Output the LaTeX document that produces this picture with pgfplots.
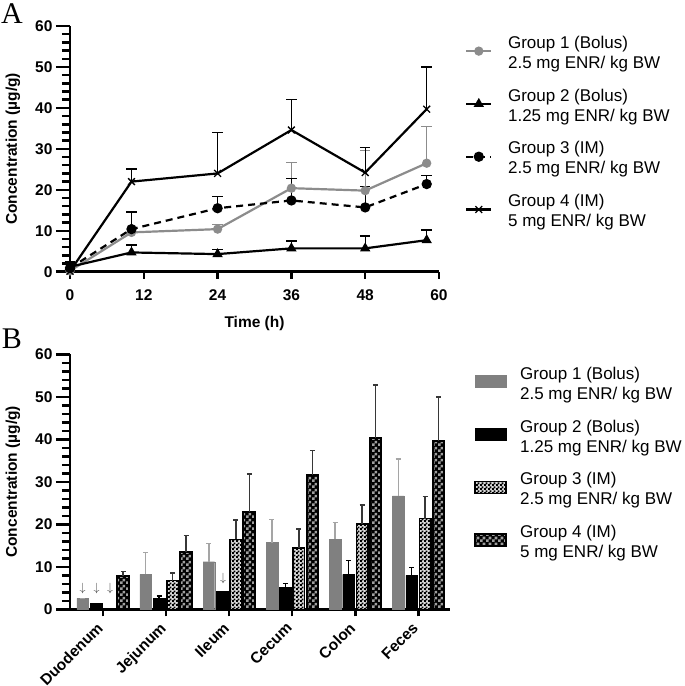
\documentclass[border=0pt]{standalone}
\usepackage{fontspec}
\setmainfont{Liberation Sans}
\newfontfamily\panelfont{Liberation Serif}
\usepackage{pgfplots}
\pgfplotsset{compat=1.18}
\usetikzlibrary{patterns}

\definecolor{gOne}{RGB}{140,140,140}
\definecolor{gBar}{RGB}{128,128,128}
\definecolor{gErr}{RGB}{165,165,165}
\definecolor{dkErr}{RGB}{55,55,55}

\pgfdeclarepatternformonly{finecheck}{\pgfqpoint{0bp}{0bp}}{\pgfqpoint{4bp}{4bp}}{\pgfqpoint{4bp}{4bp}}{%
 \pgfpathrectangle{\pgfqpoint{0bp}{0bp}}{\pgfqpoint{2.2bp}{2.2bp}}%
 \pgfpathrectangle{\pgfqpoint{2bp}{2bp}}{\pgfqpoint{2.2bp}{2.2bp}}%
 \pgfusepath{fill}}
\pgfdeclarepatternformonly{bigcheck}{\pgfqpoint{0bp}{0bp}}{\pgfqpoint{6bp}{6bp}}{\pgfqpoint{6bp}{6bp}}{%
 \pgfpathrectangle{\pgfqpoint{0bp}{0bp}}{\pgfqpoint{3bp}{3bp}}%
 \pgfpathrectangle{\pgfqpoint{3bp}{3bp}}{\pgfqpoint{3bp}{3bp}}%
 \pgfusepath{fill}}

\newcommand{\lfont}{\fontsize{17bp}{20bp}\selectfont}
\newcommand{\tfont}{\bfseries\fontsize{15.5bp}{18bp}\selectfont}
\newcommand{\entry}[2]{\begin{tabular}{@{}l@{}}#1\\#2\end{tabular}}

\pgfplotsset{
  prism/.style={
    scale only axis,
    axis x line*=bottom, axis y line*=left,
    axis line style={line width=2.5bp, black},
    tick align=outside,
    tick style={line width=2.5bp, black},
    major tick length=14bp, minor tick length=8bp,
    xtick style={/pgfplots/major tick length=7bp},
    minor y tick num=4,
    ticklabel style={font=\tfont},
    /pgf/number format/assume math mode=true,
    label style={font=\tfont},
    ymin=0, ymax=60, ytick={0,10,...,60},
    clip=false,
    legend cell align=left,
    legend style={draw=none, fill=none, inner sep=0pt, font=\lfont,
      nodes={inner sep=0pt}, row sep=27bp},
  }
}

\begin{document}
\begin{tikzpicture}
\path[use as bounding box] (0,0) rectangle (685bp,-686bp);

% ---------------- Panel A ----------------
\begin{axis}[prism,
  at={(70bp,-271.7bp)}, anchor=south west,
  width=369bp, height=245.7bp,
  xmin=0, xmax=60, xtick={0,12,...,60},
  xlabel={Time (h)},
  ylabel={Concentration (µg/g)},
  xlabel style={at={(axis description cs:0.5,-0.21)}, anchor=center},
  ylabel style={at={(axis description cs:-0.1545,0.5)}, anchor=center},
  legend style={at={(axis description cs:1.0705,0.9674)}, anchor=north west, column sep=15.7bp},
  legend image code/.code={\draw[mark repeat=2,mark phase=2,#1] plot coordinates {(0bp,-4bp) (12.5bp,-4bp) (25bp,-4bp)};},
  error bars/y dir=plus, error bars/y explicit,
]
\addplot[gOne, line width=2.2bp, mark=*, mark size=3.5bp,
  error bars/error bar style={gOne, line width=1.3bp},
  error bars/error mark options={rotate=90, gOne, mark size=5.3bp, line width=1.3bp}]
  coordinates {(0,0.2) +- (0,0.8) (10,9.6) +- (0,5.1) (24,10.4) +- (0,1.1) (36,20.4) +- (0,6.3) (48,19.8) +- (0,9.8) (58,26.5) +- (0,9.0)};
\addlegendentry{\entry{Group 1 (Bolus)}{2.5 mg ENR/ kg BW}}
\addplot[black, line width=2.2bp, mark=triangle*, mark size=3.8bp,
  error bars/error bar style={black, line width=1.3bp},
  error bars/error mark options={rotate=90, black, mark size=5.3bp, line width=1.3bp}]
  coordinates {(0,1.2) +- (0,1.2) (10,4.7) +- (0,1.8) (24,4.3) +- (0,1.2) (36,5.7) +- (0,1.8) (48,5.7) +- (0,3.0) (58,7.7) +- (0,2.5)};
\addlegendentry{\entry{Group 2 (Bolus)}{1.25 mg ENR/ kg BW}}
\addplot[black, line width=2.2bp, dash pattern=on 7bp off 5bp, mark=*, mark size=4bp, mark options={solid},
  error bars/error bar style={black, line width=1.3bp, solid},
  error bars/error mark options={rotate=90, black, mark size=5.3bp, line width=1.3bp, solid}]
  coordinates {(0,0.9) +- (0,1.1) (10,10.4) +- (0,4.2) (24,15.5) +- (0,2.8) (36,17.4) +- (0,5.3) (48,15.7) +- (0,5.1) (58,21.4) +- (0,2.1)};
\addlegendentry{\entry{Group 3 (IM)}{2.5 mg ENR/ kg BW}}
\addplot[black, line width=2.2bp, mark=x, mark size=4.8bp, mark options={line width=1.3bp},
  error bars/error bar style={black, line width=1.3bp},
  error bars/error mark options={rotate=90, black, mark size=5.3bp, line width=1.3bp}]
  coordinates {(0,0.1) +- (0,0.3) (10,22.0) +- (0,3.1) (24,24.0) +- (0,10.0) (36,34.6) +- (0,7.5) (48,24.2) +- (0,6.1) (58,39.7) +- (0,10.3)};
\addlegendentry{\entry{Group 4 (IM)}{5 mg ENR/ kg BW}}
\node[font=\panelfont\fontsize{30bp}{30bp}\selectfont] at (axis description cs:-0.157,1.05) {A};
\end{axis}

% ---------------- Panel B ----------------
\begin{axis}[prism,
  at={(70bp,-609.3bp)}, anchor=south west,
  width=380bp, height=255bp,
  xmin=-0.52, xmax=5.5, xtick={0,1,2,3,4,5},
  xticklabels={Duodenum,Jejunum,Ileum,Cecum,Colon,Feces},
  xticklabel style={xshift=-7bp, yshift=2bp, rotate=45, anchor=north east, inner sep=0pt},
  ylabel={Concentration (µg/g)},
  ylabel style={at={(axis description cs:-0.15,0.5)}, anchor=center},
  legend style={at={(axis description cs:1.063,0.958)}, anchor=north west, column sep=13bp},
  legend image code/.code={\draw[#1] (0bp,-9.5bp) rectangle (31bp,2.5bp);},
  error bars/y dir=plus, error bars/y explicit,
]
\addplot[ybar, bar width=0.185, fill=gBar, draw=gBar,
  error bars/error bar style={gErr, line width=1.4bp},
  error bars/error mark options={rotate=90, gErr, mark size=2.5bp, line width=1.4bp}]
  coordinates {(-0.32,2.6) +- (0,0) (0.68,8.2) +- (0,5.2) (1.68,11.2) +- (0,4.3) (2.68,15.7) +- (0,5.5) (3.68,16.5) +- (0,3.9) (4.68,26.7) +- (0,8.7)};
\addlegendentry{\entry{Group 1 (Bolus)}{2.5 mg ENR/ kg BW}}
\addplot[ybar, bar width=0.185, fill=black, draw=black,
  error bars/error bar style={black, line width=1.4bp},
  error bars/error mark options={rotate=90, black, mark size=2.5bp, line width=1.4bp}]
  coordinates {(-0.107,1.4) +- (0,0) (0.893,2.6) +- (0,0.5) (1.893,4.2) +- (0,0) (2.893,5.1) +- (0,1.0) (3.893,8.2) +- (0,3.3) (4.893,8.0) +- (0,1.9)};
\addlegendentry{\entry{Group 2 (Bolus)}{1.25 mg ENR/ kg BW}}
\addplot[ybar, bar width=0.185, draw=black, line width=1.3bp, preaction={fill=white!85!black}, pattern=finecheck, pattern color=black,
  error bars/error bar style={dkErr, line width=1.4bp},
  error bars/error mark options={rotate=90, dkErr, mark size=2.5bp, line width=1.4bp}]
  coordinates {(1.107,6.7) +- (0,1.8) (2.107,16.5) +- (0,4.5) (3.107,14.4) +- (0,4.5) (4.107,20.1) +- (0,4.4) (5.107,21.3) +- (0,5.2)};
\addlegendentry{\entry{Group 3 (IM)}{2.5 mg ENR/ kg BW}}
\addplot[ybar, bar width=0.185, draw=black, line width=2bp, preaction={fill=black}, pattern=bigcheck, pattern color=gray!75,
  error bars/error bar style={dkErr, line width=1.4bp},
  error bars/error mark options={rotate=90, dkErr, mark size=2.5bp, line width=1.4bp}]
  coordinates {(0.32,7.8) +- (0,1.1) (1.32,13.6) +- (0,3.7) (2.32,22.8) +- (0,9.0) (3.32,31.5) +- (0,5.8) (4.32,40.4) +- (0,12.4) (5.32,39.7) +- (0,10.3)};
\addlegendentry{\entry{Group 4 (IM)}{5 mg ENR/ kg BW}}
\addplot[only marks, mark=text, text mark={\fontsize{13bp}{13bp}\selectfont\textcolor{black!75}{$\downarrow$}}, forget plot]
  coordinates {(-0.319,5.0) (-0.097,5.0) (0.114,5.0) (1.905,7.3)};
\node[font=\panelfont\fontsize{30bp}{30bp}\selectfont] at (axis description cs:-0.153,1.06) {B};
\end{axis}
\end{tikzpicture}
\end{document}
